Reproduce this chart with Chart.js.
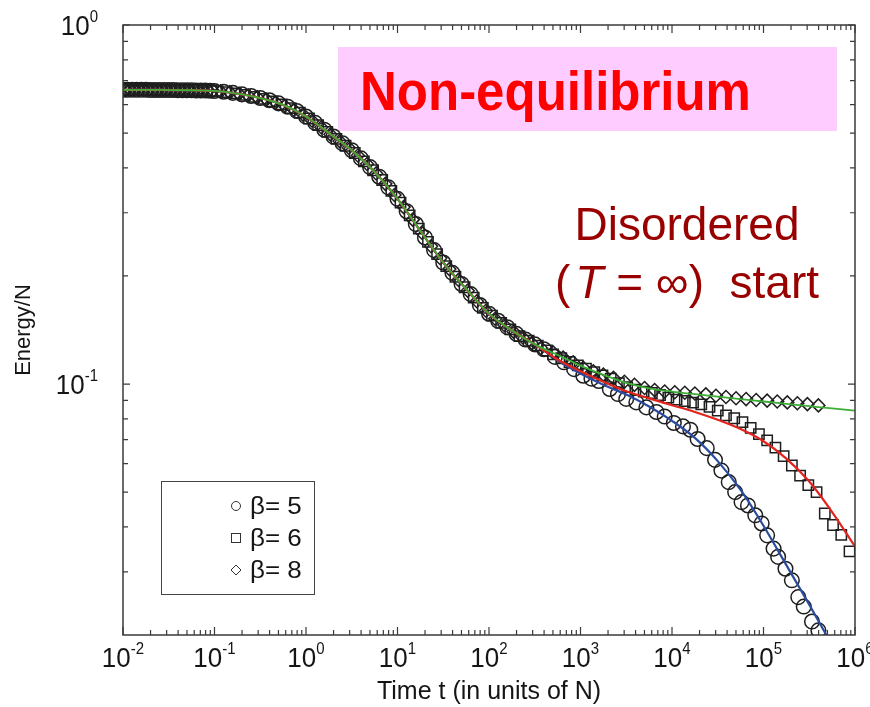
<!DOCTYPE html>
<html><head><meta charset="utf-8">
<script src="https://cdn.jsdelivr.net/npm/chart.js@4.4.1/dist/chart.umd.min.js"></script>
<style>html,body{margin:0;padding:0;background:#fff;}canvas{display:block;}</style>
</head><body>
<canvas id="c" width="870" height="707"></canvas>
<script>
// ---------- data ----------
// beta = 5 (circles), early times
const tBeta5Early = [0.01,0.01122,0.01259,0.01413,0.01585,0.01778,0.01995,0.02239,0.02512,0.02818,
  0.03162,0.03548,0.03981,0.04467,0.05012,0.05623,0.0631,0.07079,0.07943,0.08913,
  0.1,0.1259,0.1585,0.1995,0.2512,0.3162,0.3981,0.5012,0.631,0.7943,
  1,1.259,1.585,1.995,2.512,3.162,3.981,5.012,6.31,7.943,
  10,12.59,15.85,19.95,25.12,31.62,39.81,50.12,63.1,79.43,
  100,125.9,158.5,199.5,251.2,316.2,398.1];
const eBeta5Early = [0.660,0.660,0.660,0.660,0.660,0.660,0.659,0.659,0.659,0.659,
  0.659,0.659,0.658,0.658,0.658,0.658,0.657,0.657,0.657,0.656,
  0.655,0.652,0.647,0.641,0.634,0.626,0.617,0.605,0.592,0.576,
  0.556,0.534,0.511,0.489,0.468,0.448,0.425,0.402,0.378,0.353,
  0.328,0.303,0.279,0.256,0.236,0.218,0.204,0.190,0.178,0.166,
  0.157,0.150,0.144,0.138,0.133,0.129,0.125];
// beta = 5 (circles), late times
const tBeta5Late = [524.8,660.7,851.1,1072,1318,1585,2089,2570,3162,4074,5248,6761,8318,10470,13180,15850,19050,23990,29510,34670,
  41690,48980,57540,67610,81280,95500,109600,128800,144500,173800,204200,239900,275400,338800,398100];
const eBeta5Late = [0.1190,0.1150,0.1100,0.1055,0.1035,0.1020,0.0969,0.0938,0.0909,0.0889,0.0861,0.0836,0.0812,0.0779,0.0762,0.0746,0.0703,0.0663,0.0615,0.0574,
  0.0533,0.0500,0.0469,0.0459,0.0431,0.0409,0.0379,0.0348,0.0330,0.0306,0.0284,0.0255,0.0240,0.0218,0.0206];

// beta = 6 (squares), early times
const tBeta6Early = [0.0104,0.01167,0.01309,0.01469,0.01648,0.01849,0.02075,0.02328,0.02612,0.02931,
  0.03289,0.0369,0.0414,0.04645,0.05212,0.05848,0.06561,0.07362,0.0826,0.09268,
  0.1079,0.1358,0.171,0.2153,0.271,0.3412,0.4295,0.5408,0.6808,0.857,
  1.079,1.358,1.71,2.153,2.71,3.412,4.295,5.408,6.808,8.57,
  10.79,13.58,17.1,21.53,27.1,34.12,42.95,54.08,68.08,85.7,
  107.9,135.8,171,215.3,271,341.2,429.5];
const eBeta6Early = [0.660,0.660,0.660,0.660,0.660,0.660,0.659,0.659,0.659,0.659,
  0.659,0.659,0.658,0.658,0.658,0.658,0.657,0.657,0.657,0.656,
  0.654,0.650,0.645,0.639,0.631,0.623,0.613,0.601,0.587,0.570,
  0.549,0.526,0.504,0.482,0.461,0.440,0.417,0.394,0.370,0.345,
  0.320,0.295,0.271,0.249,0.230,0.213,0.199,0.186,0.174,0.163,
  0.155,0.148,0.142,0.136,0.132,0.128,0.124];
// beta = 6 (squares), late times
const tBeta6Late = [501.2,616.6,758.6,933.3,1148,1413,1738,2138,2630,3236,3981,4898,6026,7413,9120,11220,13800,16980,20890,25700,
  31620,38900,47860,58880,72440,89130,109600,134900,166000,204200,251200,309000,380200,467700,575400,707900,871000];
const eBeta6Late = [0.1210,0.1180,0.1152,0.1127,0.1103,0.1080,0.1057,0.1035,0.1005,0.0980,0.0964,0.0953,0.0944,0.0932,0.0917,0.0905,0.0897,0.0888,0.0878,0.0864,
  0.0843,0.0818,0.0803,0.0783,0.0755,0.0725,0.0697,0.0665,0.0630,0.0593,0.0556,0.0523,0.0500,0.0436,0.0405,0.0380,0.0342];

// beta = 8 (diamonds), early times
const tBeta8Early = [0.01079,0.01211,0.01358,0.01524,0.0171,0.01919,0.02153,0.02415,0.0271,0.03041,
  0.03412,0.03828,0.04295,0.04819,0.05408,0.06067,0.06808,0.07638,0.0857,0.09616,
  0.1167,0.1469,0.1849,0.2328,0.2931,0.369,0.4645,0.5848,0.7362,0.9268,
  1.167,1.469,1.849,2.328,2.931,3.69,4.645,5.848,7.362,9.268,
  11.67,14.69,18.49,23.28,29.31,36.9,46.45,58.48,73.62,92.68,
  116.7,146.9,184.9,232.8,293.1,369];
const eBeta8Early = [0.660,0.660,0.660,0.660,0.660,0.660,0.659,0.659,0.659,0.659,
  0.659,0.659,0.658,0.658,0.658,0.658,0.657,0.657,0.657,0.656,
  0.653,0.649,0.643,0.636,0.629,0.620,0.609,0.596,0.581,0.563,
  0.541,0.519,0.496,0.475,0.455,0.433,0.410,0.386,0.361,0.336,
  0.311,0.287,0.264,0.242,0.224,0.209,0.195,0.182,0.170,0.160,
  0.152,0.146,0.140,0.135,0.130,0.126];
// beta = 8 (diamonds), late times
const tBeta8Late = [501,646,832,1072,1380,1778,2291,3020,3890,5012,6457,8318,10720,13800,17780,23440,30200,38900,50120,64570,
  83180,109600,141300,182000,234400,302000,398100];
const eBeta8Late = [0.1225,0.1185,0.1150,0.1110,0.1085,0.1062,0.1040,0.1015,0.0995,0.0975,0.0962,0.0953,0.0949,0.0946,0.0941,0.0936,0.0928,0.0920,0.0913,0.0908,
  0.0903,0.0899,0.0894,0.0889,0.0884,0.0879,0.0872];

// fitted curves (solid lines)
const tFitCommon = [0.01,0.01778,0.03162,0.05623,0.1,0.1778,0.3162,0.5623,1,1.778,3.162,5.623,10,17.78,31.62,56.23,100,177.8,316.2];
const eFitCommon = [0.660,0.660,0.659,0.658,0.655,0.644,0.626,0.599,0.556,0.500,0.448,0.390,0.328,0.267,0.218,0.184,0.157,0.141,0.129];
const tFitTail = [562.3,1000,1778,3162,5623,10000,17783,31623,56234,100000,177828,316228,562341,1000000];
const eFitBeta5 = [0.1165,0.1070,0.0995,0.0935,0.0866,0.0790,0.0708,0.0610,0.0507,0.0403,0.0313,0.0243,0.0187];
const eFitBeta6 = [0.1170,0.1085,0.1015,0.0955,0.0912,0.0873,0.0836,0.0795,0.0749,0.0693,0.0620,0.0535,0.0440,0.0353];
const eFitBeta8 = [0.1205,0.1125,0.1060,0.1008,0.0973,0.0953,0.0937,0.0922,0.0908,0.0894,0.0881,0.0868,0.0855,0.0843];

// axes
const xTickValues = [0.01,0.1,1,10,100,1000,10000,100000,1000000];
const xTickExps = ['-2','-1','0','1','2','3','4','5','6'];
const yTickValues = [1,0.1];
const yTickExps = ['0','-1'];
const legendLabels = ['\u03b2= 5','\u03b2= 6','\u03b2= 8'];

// ---------- drawing ----------
const FONT = '"Liberation Sans", Arial, Helvetica, sans-serif';
const pairs = (ts, es) => es.map((e, i) => ({x: ts[i], y: e}));
const circles = pairs(tBeta5Early, eBeta5Early).concat(pairs(tBeta5Late, eBeta5Late));
const squares = pairs(tBeta6Early, eBeta6Early).concat(pairs(tBeta6Late, eBeta6Late));
const diamonds = pairs(tBeta8Early, eBeta8Early).concat(pairs(tBeta8Late, eBeta8Late));
const fit5 = pairs(tFitCommon, eFitCommon).concat(pairs(tFitTail, eFitBeta5));
const fit6 = pairs(tFitCommon, eFitCommon).concat(pairs(tFitTail, eFitBeta6));
const fit8 = pairs(tFitCommon, eFitCommon).concat(pairs(tFitTail, eFitBeta8));

function sText(ctx, txt, x, y, sx, sy) {
  ctx.save(); ctx.translate(x, y); ctx.scale(sx, sy); ctx.fillText(txt, 0, 0); ctx.restore();
}

const decor = {
  id: 'decor',
  beforeDatasetsDraw(chart) {
    const ctx = chart.ctx;
    ctx.save();
    ctx.fillStyle = '#FFCCFF';
    ctx.fillRect(338, 47, 499, 84);
    ctx.restore();
  },
  afterDatasetsDraw(chart) {
    const {ctx, chartArea: a, scales: {x, y}} = chart;
    ctx.save();
    // frame
    ctx.strokeStyle = '#3a3a3a';
    ctx.lineWidth = 1.5;
    ctx.strokeRect(a.left, a.top, a.right - a.left, a.bottom - a.top);
    ctx.lineWidth = 1.2;
    ctx.beginPath();
    for (let d = 0; d < xTickValues.length; d++) {
      const base = xTickValues[d];
      const px = x.getPixelForValue(base);
      ctx.moveTo(px, a.bottom); ctx.lineTo(px, a.bottom - 8);
      ctx.moveTo(px, a.top); ctx.lineTo(px, a.top + 8);
      if (d < xTickValues.length - 1) {
        for (let m = 2; m <= 9; m++) {
          const p = x.getPixelForValue(base * m);
          ctx.moveTo(p, a.bottom); ctx.lineTo(p, a.bottom - 5);
          ctx.moveTo(p, a.top); ctx.lineTo(p, a.top + 5);
        }
      }
    }
    yTickValues.forEach(v => {
      const py = y.getPixelForValue(v);
      ctx.moveTo(a.left, py); ctx.lineTo(a.left + 7, py);
      ctx.moveTo(a.right, py); ctx.lineTo(a.right - 7, py);
    });
    [0.01, 0.1].forEach(base => {
      for (let m = 3; m <= 9; m++) {
        const py = y.getPixelForValue(base * m);
        ctx.moveTo(a.left, py); ctx.lineTo(a.left + 5, py);
        ctx.moveTo(a.right, py); ctx.lineTo(a.right - 5, py);
      }
    });
    {
      const py = y.getPixelForValue(0.2);
      ctx.moveTo(a.left, py); ctx.lineTo(a.left + 5, py);
      ctx.moveTo(a.right, py); ctx.lineTo(a.right - 5, py);
    }
    ctx.stroke();

    // tick labels 10^n
    ctx.fillStyle = '#151515';
    ctx.textBaseline = 'alphabetic';
    ctx.textAlign = 'left';
    xTickValues.forEach((v, i) => {
      const px = x.getPixelForValue(v);
      ctx.font = '26px ' + FONT; const w1 = ctx.measureText('10').width;
      ctx.font = '15px ' + FONT; const w2 = ctx.measureText(xTickExps[i]).width;
      const left = px - (w1 + w2) / 2;
      ctx.font = '26px ' + FONT; sText(ctx, '10', left, 667, 1, 1.08);
      ctx.font = '15px ' + FONT; sText(ctx, xTickExps[i], left + w1, 654, 1, 1.1);
    });
    yTickValues.forEach((v, i) => {
      const py = y.getPixelForValue(v);
      ctx.font = '26px ' + FONT; const w1 = ctx.measureText('10').width;
      ctx.font = '15px ' + FONT; const w2 = ctx.measureText(yTickExps[i]).width;
      const left = 98 - (w1 + w2);
      ctx.font = '26px ' + FONT; sText(ctx, '10', left, py + 10, 1, 1.08);
      ctx.font = '15px ' + FONT; sText(ctx, yTickExps[i], left + w1, py - 3, 1, 1.1);
    });

    // annotations
    ctx.fillStyle = '#FF0000';
    ctx.font = 'bold 51px ' + FONT;
    sText(ctx, 'Non-equilibrium', 360, 110, 1, 1.09);

    ctx.fillStyle = '#990000';
    ctx.font = '46px ' + FONT;
    ctx.textAlign = 'center';
    ctx.fillText('Disordered', 687, 240);
    ctx.textAlign = 'left';
    let cx = 555;
    ctx.font = '46px ' + FONT;
    ctx.fillText('(', cx, 298); cx += ctx.measureText('(').width + 5;
    ctx.font = 'italic 46px ' + FONT;
    ctx.fillText('T', cx, 298); cx += ctx.measureText('T').width;
    ctx.font = '46px ' + FONT;
    ctx.fillText(' = \u221e)  start', cx, 298);

    // legend
    ctx.fillStyle = '#ffffff';
    ctx.fillRect(161, 481, 153, 113);
    ctx.strokeStyle = '#444';
    ctx.lineWidth = 1;
    ctx.strokeRect(161.5, 481.5, 153, 113);
    const rows = [506, 538, 570];
    ctx.strokeStyle = '#333';
    ctx.lineWidth = 1;
    ctx.beginPath(); ctx.arc(236, rows[0], 4.5, 0, Math.PI * 2); ctx.stroke();
    ctx.strokeRect(231.5, rows[1] - 4.5, 9, 9);
    ctx.beginPath();
    ctx.moveTo(236, rows[2] - 5); ctx.lineTo(241, rows[2]); ctx.lineTo(236, rows[2] + 5); ctx.lineTo(231, rows[2]); ctx.closePath(); ctx.stroke();
    ctx.fillStyle = '#151515';
    ctx.font = '23px ' + FONT;
    legendLabels.forEach((t, i) => sText(ctx, t, 250, rows[i] + 8, 1.13, 1));
    ctx.restore();
  }
};

const markerStyle = {borderColor: '#1e1e1e', borderWidth: 1.5, backgroundColor: 'rgba(0,0,0,0)'};
const lineStyle = {type: 'line', pointRadius: 0, fill: false, cubicInterpolationMode: 'monotone'};

new Chart(document.getElementById('c'), {
  type: 'scatter',
  data: {
    datasets: [
      Object.assign({label: 'fit \u03b2=8', data: fit8, borderColor: '#3DAE35', borderWidth: 1.8, order: 0}, lineStyle),
      Object.assign({label: 'fit \u03b2=6', data: fit6, borderColor: '#E3241E', borderWidth: 2.2, order: 1}, lineStyle),
      Object.assign({label: 'fit \u03b2=5', data: fit5, borderColor: '#2B4C9E', borderWidth: 2.2, order: 2}, lineStyle),
      Object.assign({label: legendLabels[0], data: circles, pointStyle: 'circle', pointRadius: 7.3, order: 3}, markerStyle),
      Object.assign({label: legendLabels[1], data: squares, pointStyle: 'rect', pointRadius: 7.3, order: 4}, markerStyle),
      Object.assign({label: legendLabels[2], data: diamonds, pointStyle: 'rectRot', pointRadius: 6.5, order: 5}, markerStyle)
    ]
  },
  options: {
    responsive: false,
    animation: false,
    devicePixelRatio: 1,
    layout: {padding: {left: 0, right: 15, top: 25, bottom: 0}},
    plugins: {legend: {display: false}, tooltip: {enabled: false}},
    scales: {
      x: {
        type: 'logarithmic', min: 0.01, max: 1000000, position: 'bottom',
        grid: {display: false}, border: {display: false}, ticks: {display: false},
        title: {display: true, text: 'Time t (in units of N)', color: '#151515',
          font: {family: FONT, size: 25, lineHeight: 1}, padding: {top: 0, bottom: 2}},
        afterFit(s) { s.height = 72; }
      },
      y: {
        type: 'logarithmic', min: 0.02, max: 1, position: 'left',
        grid: {display: false}, border: {display: false}, ticks: {display: false},
        title: {display: true, text: 'Energy/N', color: '#151515',
          font: {family: FONT, size: 22, lineHeight: 1}, padding: {top: 13, bottom: 0}},
        afterFit(s) { s.width = 123; }
      }
    }
  },
  plugins: [decor]
});
</script>
</body></html>
